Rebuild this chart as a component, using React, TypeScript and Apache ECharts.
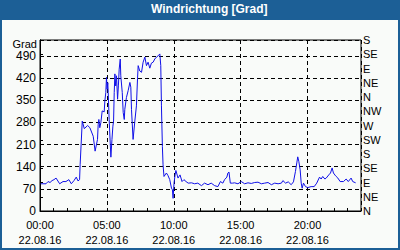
import React, { useEffect, useRef } from "react";
import * as echarts from "echarts";

const hours: number[] = [
  0.05, 0.3, 0.45, 0.6, 0.75, 0.9, 1.05, 1.2, 1.47, 1.72, 1.94, 2.16, 2.34, 2.54, 2.71, 2.84, 2.96, 3.0, 3.16,
  3.31, 3.56, 3.73, 3.98, 4.12, 4.3, 4.35, 4.4, 4.47, 4.55, 4.65, 4.8, 4.85, 4.92, 4.97, 5.02, 5.07, 5.1, 5.17,
  5.3, 5.38, 5.45, 5.5, 5.55, 5.6, 5.66, 5.72, 5.8, 5.86, 5.92, 6.0, 6.04, 6.15, 6.22, 6.3, 6.34, 6.46, 6.59,
  6.72, 6.79, 6.84, 6.96, 7.09, 7.21, 7.29, 7.34, 7.46, 7.59, 7.71, 7.84, 7.96, 8.08, 8.21, 8.33, 8.46, 8.58,
  8.71, 8.83, 8.96, 9.03, 9.08, 9.15, 9.2, 9.27, 9.45, 9.57, 9.7, 9.83, 9.9, 9.95, 10.02, 10.1, 10.16, 10.32,
  10.47, 10.62, 10.76, 10.92, 11.08, 11.33, 11.56, 11.8, 12.07, 12.3, 12.56, 12.8, 13.06, 13.3, 13.49, 13.67,
  13.8, 13.97, 14.05, 14.13, 14.23, 14.4, 14.55, 14.8, 15.05, 15.3, 15.55, 15.8, 16.05, 16.3, 16.55, 16.8,
  17.05, 17.3, 17.55, 17.8, 18.05, 18.16, 18.36, 18.56, 18.78, 18.95, 19.1, 19.2, 19.27, 19.35, 19.45, 19.53,
  19.6, 19.7, 19.85, 20.02, 20.27, 20.5, 20.69, 20.9, 21.02, 21.14, 21.3, 21.4, 21.59, 21.72, 21.84, 21.94,
  22.1, 22.27, 22.44, 22.69, 22.89, 23.05, 23.26, 23.38, 23.6,
];

const windDir: number[] = [
  86, 86, 86, 93, 90, 96, 99, 104, 86, 93, 93, 99, 86, 96, 107, 95, 99, 146, 284,
  260, 270, 263, 236, 189, 226, 273, 289, 263, 279, 316, 313, 348, 374, 422, 385, 405, 374, 289,
  170, 226, 268, 284, 374, 433, 395, 427, 353, 395, 448, 480, 427, 374, 311, 289, 321, 358, 380,
  406, 391, 321, 226, 284, 332, 417, 459, 442, 438, 470, 486, 459, 470, 451, 467, 470, 480,
  486, 490, 496, 459, 332, 204, 146, 109, 120, 112, 99, 72, 67, 40, 88, 114, 128, 104,
  114, 93, 99, 93, 88, 89, 86, 88, 80, 88, 83, 88, 80, 77, 93, 88,
  99, 107, 120, 123, 88, 88, 89, 86, 93, 86, 89, 87, 90, 91, 86, 88,
  90, 83, 88, 86, 88, 96, 88, 92, 83, 92, 125, 152, 171, 157, 130, 88,
  72, 88, 77, 74, 77, 77, 88, 107, 101, 109, 101, 104, 114, 120, 136, 120,
  111, 104, 93, 93, 101, 93, 104, 93, 89,
];

const leftTicks: number[] = [0, 70, 140, 210, 280, 350, 420, 490];
const compassLabels: string[] = ["N", "NE", "E", "SE", "S", "SW", "W", "NW", "N", "NE", "E", "SE", "S"];
const dateLabel = "22.08.16";
const titleText = "Windrichtung [Grad]";
const unitText = "Grad";

const FONT = "'Liberation Sans', Arial, sans-serif";

export default function App() {
  const ref = useRef<HTMLDivElement>(null);
  useEffect(() => {
    if (!ref.current) return;
    const chart = echarts.init(ref.current, undefined, { renderer: "svg" });
    const data = hours.map((h, i) => [h, windDir[i]]);
    const dash = { type: [4, 3] as any, color: "#000", width: 1 };
    chart.setOption({
      animation: false,
      backgroundColor: "#f9fbf9",
      title: {
        text: titleText,
        left: 151,
        top: 3,
        padding: 0,
        textStyle: { color: "#fff", fontSize: 12, fontWeight: "bold", fontFamily: FONT },
      },
      graphic: [
        { type: "rect", z: 0, shape: { x: 0, y: 0, width: 400, height: 20 }, style: { fill: "#1c5f96" } },
        { type: "rect", z: 0, shape: { x: 0, y: 0, width: 2, height: 250 }, style: { fill: "#1c5f96" } },
        { type: "rect", z: 0, shape: { x: 398, y: 0, width: 2, height: 250 }, style: { fill: "#1c5f96" } },
        { type: "rect", z: 0, shape: { x: 0, y: 248, width: 400, height: 2 }, style: { fill: "#1c5f96" } },
        {
          type: "text",
          z: 5,
          style: {
            text: unitText,
            x: 37,
            y: 44,
            align: "right",
            verticalAlign: "middle",
            fontSize: 11,
            fontFamily: FONT,
            fill: "#000",
          },
        },
      ],
      grid: {
        left: 40,
        right: 39,
        top: 40,
        bottom: 39,
        show: true,
        borderColor: "#000",
        borderWidth: 1,
        backgroundColor: "transparent",
      },
      xAxis: [
        {
          type: "value",
          min: 0,
          max: 24,
          interval: 5,
          axisLine: { show: true, lineStyle: { color: "#000" } },
          axisTick: { show: false },
          splitLine: { show: true, lineStyle: dash },
          axisLabel: {
            margin: 6,
            color: "#000",
            fontSize: 11,
            fontFamily: FONT,
            lineHeight: 15,
            formatter: (v: number) =>
              v % 5 === 0 ? `${String(v).padStart(2, "0")}:00\n${dateLabel}` : "",
          },
        },
        {
          type: "value",
          min: 0,
          max: 24,
          interval: 1,
          position: "bottom",
          axisLine: { show: false },
          axisTick: { show: true, inside: true, length: 3, lineStyle: { color: "#000" } },
          axisLabel: { show: false },
          splitLine: { show: false },
        },
      ],
      yAxis: [
        {
          type: "value",
          min: 0,
          max: 540,
          interval: 70,
          position: "left",
          axisLine: { show: true, lineStyle: { color: "#000" } },
          axisTick: { show: false },
          splitLine: { show: true, lineStyle: dash },
          axisLabel: {
            margin: 4,
            color: "#000",
            fontSize: 12,
            fontFamily: FONT,
            formatter: (v: number) => (leftTicks.includes(v) ? String(v) : ""),
          },
        },
        {
          type: "value",
          min: 0,
          max: 540,
          interval: 45,
          position: "right",
          axisLine: { show: true, lineStyle: { color: "#000" } },
          axisTick: { show: true, length: 3, lineStyle: { color: "#000" } },
          splitLine: { show: false },
          axisLabel: {
            margin: 2,
            color: "#000",
            fontSize: 11,
            lineHeight: 12,
            fontFamily: FONT,
            formatter: (v: number) => compassLabels[Math.round(v / 45)] ?? "",
          },
        },
      ],
      series: [
        {
          type: "line",
          xAxisIndex: 0,
          yAxisIndex: 0,
          data,
          showSymbol: false,
          symbol: "none",
          lineStyle: { color: "#1010e8", width: 1 },
          z: 3,
        },
      ],
    });
    return () => chart.dispose();
  }, []);
  return (
    <div
      ref={ref}
      style={{ position: "fixed", left: 0, top: 0, width: 400, height: 250 }}
    />
  );
}
